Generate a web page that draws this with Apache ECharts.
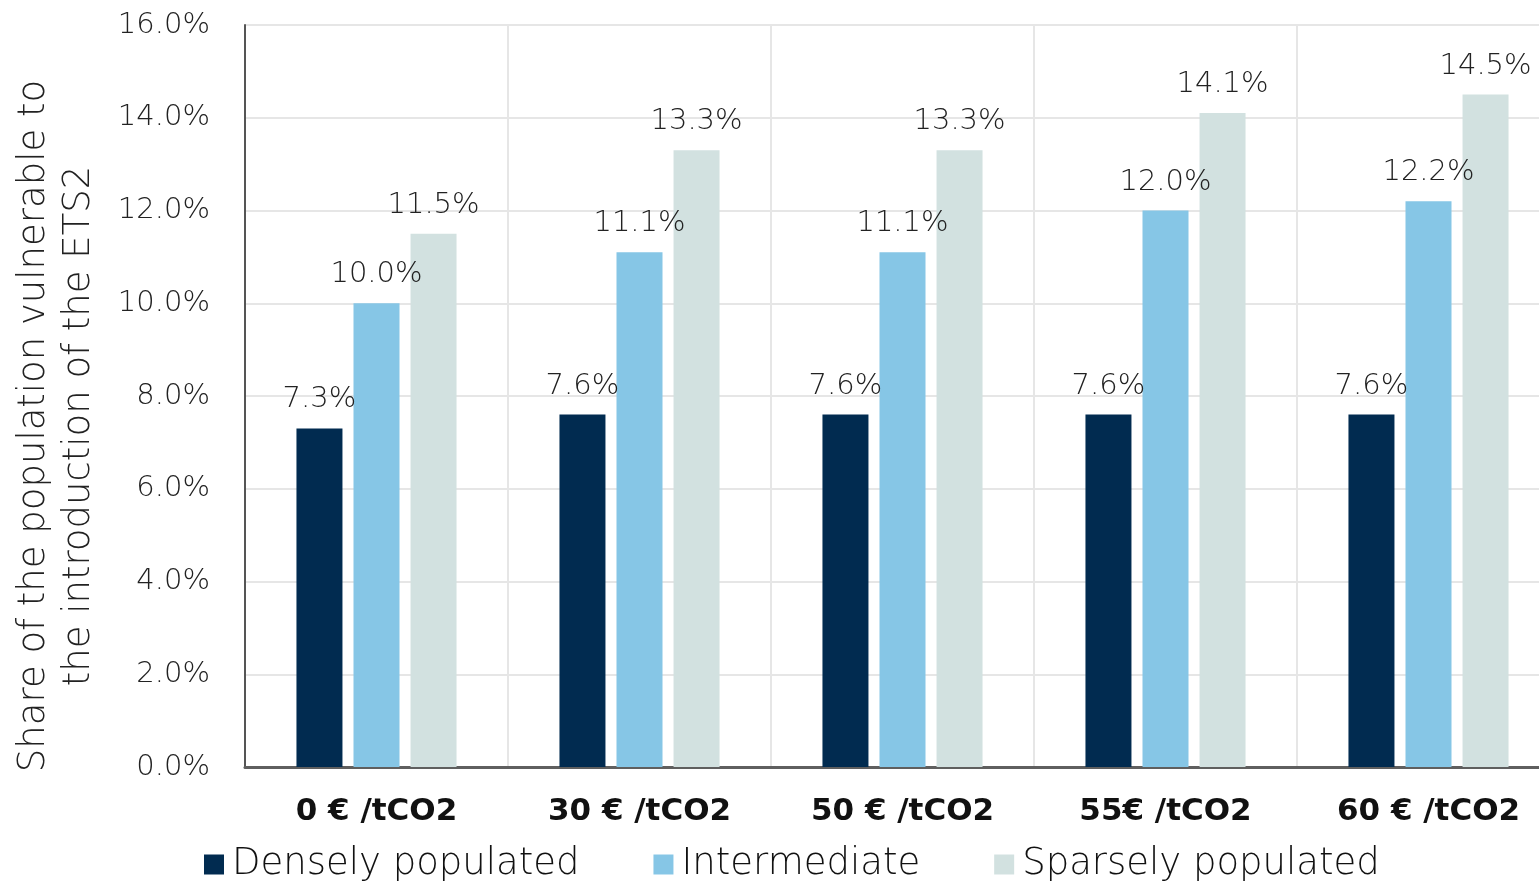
<!DOCTYPE html>
<html>
<head>
<meta charset="utf-8">
<script src="https://cdn.jsdelivr.net/npm/echarts@6/dist/echarts.min.js"></script>
<style>
  html, body { margin: 0; padding: 0; background: #fff; overflow: hidden; }
  #chart { width: 1539px; height: 884px; }
</style>
</head>
<body>
<div id="chart"></div>
<script>
var categories = ['0 € /tCO2', '30 € /tCO2', '50 € /tCO2', '55€ /tCO2', '60 € /tCO2'];
var densely = [7.3, 7.6, 7.6, 7.6, 7.6];
var intermediate = [10.0, 11.1, 11.1, 12.0, 12.2];
var sparsely = [11.5, 13.3, 13.3, 14.1, 14.5];
var seriesNames = ['Densely populated', 'Intermediate', 'Sparsely populated'];
var yTicks = [0, 2, 4, 6, 8, 10, 12, 14, 16];

var font = 'DejaVu Sans, sans-serif';
var dom = document.getElementById('chart');
var myChart = echarts.init(dom);

var labelStyle = {
    show: true,
    position: 'top',
    distance: 14,
    fontFamily: font,
    fontWeight: 300,
    fontSize: 29,
    color: '#222',
    formatter: function (p) { return p.value.toFixed(1) + '%'; }
};

function bar(name, data, color) {
    return {
        name: name,
        type: 'bar',
        data: data,
        barWidth: 46,
        barGap: '24%',
        itemStyle: { color: color },
        label: labelStyle
    };
}

var option = {
    animation: false,
    textStyle: { fontFamily: font },
    // plot runs a little past the right edge, as in the source
    grid: { left: 245, width: 1315, top: 25, bottom: 117, outerBoundsMode: 'none', containLabel: false },
    legend: {
        bottom: -4,
        left: 199,
        itemWidth: 20,
        itemHeight: 20,
        itemGap: 74,
        icon: 'rect',
        textStyle: { fontFamily: font, fontWeight: 300, fontSize: 37, color: '#111', padding: [0, 0, 0, 3] },
        data: seriesNames
    },
    xAxis: {
        type: 'category',
        data: categories,
        axisLine: { lineStyle: { color: '#5f5f5f', width: 3 } },
        axisTick: { show: false },
        axisLabel: { fontFamily: font, fontSize: 31, fontWeight: 'bold', color: '#111', margin: 29 },
        splitLine: { show: true, interval: 0, lineStyle: { color: '#e6e6e6', width: 2 } }
    },
    yAxis: {
        type: 'value',
        min: yTicks[0],
        max: yTicks[yTicks.length - 1],
        interval: 2,
        axisLine: { show: true, lineStyle: { color: '#555', width: 2 } },
        axisTick: { show: false },
        axisLabel: {
            fontFamily: font, fontWeight: 300, fontSize: 29, color: '#222', margin: 35,
            formatter: function (v) { return v.toFixed(1) + '%'; }
        },
        splitLine: { lineStyle: { color: '#e6e6e6', width: 2 } }
    },
    graphic: [{
        type: 'text',
        x: 57,
        y: 426,
        rotation: Math.PI / 2,
        style: {
            text: 'Share of the population vulnerable to\nthe introduction of the ETS2',
            fontFamily: font,
            fontWeight: 300,
            fontSize: 37,
            lineHeight: 45,
            fill: '#222',
            align: 'center',
            verticalAlign: 'middle'
        }
    }],
    series: [
        bar(seriesNames[0], densely, '#012B50'),
        bar(seriesNames[1], intermediate, '#86C6E6'),
        bar(seriesNames[2], sparsely, '#D2E1E0')
    ]
};
myChart.setOption(option, true);
</script>
</body>
</html>
